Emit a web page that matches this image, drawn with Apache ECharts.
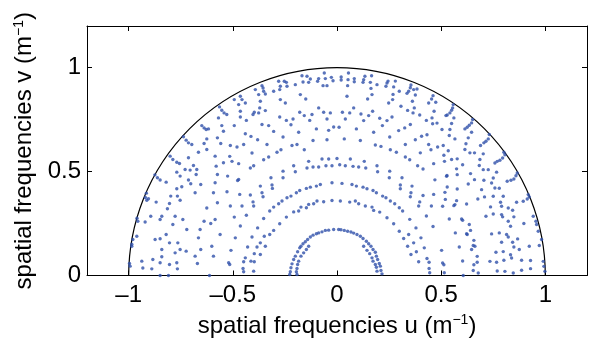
<!DOCTYPE html>
<html><head><meta charset="utf-8">
<script src="https://cdn.jsdelivr.net/npm/echarts@6/dist/echarts.min.js"></script>
<style>html,body{margin:0;padding:0;background:#fff}#c{width:592px;height:343px}</style>
</head><body><div id="c"></div>
<script>
// ---- tick values ----
const xTicks = [-1, -0.5, 0, 0.5, 1];
const yTicks = [0, 0.5, 1];

// ---- sample points (u, v) ----
const ringInner = [[0.008,0.221],[0.019,0.22],[0.035,0.217],[0.051,0.213],[0.067,0.209],[0.08,0.204],[0.096,0.197],[0.112,0.189],[0.125,0.178],[0.141,0.165],[0.152,0.153],[0.163,0.141],[0.173,0.125],[0.184,0.112],[0.189,0.093],[0.195,0.077],[0.203,0.058],[0.208,0.045],[0.211,0.024],[0.216,0.008],
[-0.016,0.221],[-0.04,0.218],[-0.056,0.217],[-0.072,0.21],[-0.088,0.205],[-0.099,0.201],[-0.115,0.194],[-0.128,0.185],[-0.141,0.173],[-0.152,0.162],[-0.163,0.153],[-0.173,0.141],[-0.179,0.133],[-0.189,0.114],[-0.2,0.093],[-0.208,0.077],[-0.216,0.056],[-0.221,0.037],[-0.224,0.018],[-0.227,0.005]];
const ringInnerLow = [[0.128,0.141],[0.144,0.121],[0.157,0.105],[0.168,0.085],[0.173,0.069],[0.184,0.053],[0.189,0.04],[0.192,0.021],
[-0.136,0.141],[-0.147,0.125],[-0.16,0.109],[-0.173,0.093],[-0.184,0.069],[-0.189,0.053],[-0.192,0.034],[-0.195,0.018],[-0.192,0.005]];
const ring044 = [[0.024,0.443],[0.072,0.438],[0.093,0.43],[0.125,0.425],[0.144,0.417],[0.173,0.409],[0.189,0.398],[0.219,0.382],[0.235,0.374],[0.256,0.358],[0.277,0.345],[0.299,0.326],[0.315,0.31],[0.349,0.27],[0.379,0.229],[0.403,0.181],[0.419,0.133],[0.432,0.082],[0.442,0.034],[0.445,0.013],
[-0.024,0.446],[-0.08,0.438],[-0.099,0.43],[-0.128,0.425],[-0.147,0.419],[-0.179,0.409],[-0.195,0.398],[-0.221,0.382],[-0.24,0.374],[-0.264,0.358],[-0.28,0.345],[-0.304,0.329],[-0.323,0.31],[-0.352,0.274],[-0.381,0.229],[-0.408,0.185],[-0.429,0.137],[-0.44,0.085],[-0.448,0.066],[-0.451,0.034],[-0.448,0.018]];
const ring036 = [[0.016,0.358],[0.061,0.353],[0.088,0.358],[0.104,0.345],[0.136,0.334],[0.168,0.329],[0.176,0.313],[0.205,0.305],[0.24,0.278],[0.272,0.249],[0.299,0.213],[0.32,0.178],[0.339,0.141],[0.355,0.101],
[-0.024,0.361],[-0.064,0.355],[-0.096,0.358],[-0.112,0.345],[-0.136,0.342],[-0.147,0.326],[-0.173,0.329],[-0.184,0.31],[-0.208,0.306],[-0.243,0.281],[-0.275,0.249],[-0.304,0.217],[-0.323,0.197],[-0.349,0.189],[-0.368,0.157],[-0.384,0.137],[-0.397,0.105],[-0.413,0.069]];
const dotsTopRight = [[0.02,0.955],[0.02,0.94],[0.055,0.974],[0.053,0.942],[0.083,0.947],[0.083,0.932],[0.128,0.942],[0.125,0.929],[0.134,0.958],[0.166,0.961],[0.16,0.929],[0.163,0.9],[0.051,0.913],[0.192,0.918],[0.235,0.91],[0.24,0.926],[0.245,0.935],[0.272,0.907],[0.269,0.871],[0.28,0.935],[0.299,0.886],[0.355,0.916],[0.352,0.903],[0.344,0.886],[0.336,0.876],[0.368,0.894],[0.384,0.897],[0.376,0.868],[0.362,0.838],[0.371,0.806],[0.365,0.782],[0.339,0.794],[0.307,0.814],[0.248,0.83],[0.267,0.846],[0.461,0.865],[0.454,0.849],[0.44,0.83],[0.474,0.833],[0.466,0.79],[0.456,0.758],[0.429,0.746],[0.459,0.73],[0.48,0.733],[0.504,0.702],[0.048,0.862],[0.147,0.849],[0.168,0.87],[0.08,0.806],[0.026,0.785],[0.061,0.782],[0.115,0.777],[0.171,0.79],[0.04,0.753],[0.128,0.745],[0.152,0.769],[0.205,0.756],[0.24,0.745],[0.264,0.762],[0.218,0.721],[0.176,0.689],[0.093,0.705],[0.01,0.713],[0.035,0.657],[0.112,0.649],[0.253,0.666],[0.296,0.697],[0.325,0.71],[0.352,0.726],[0.397,0.772],[0.376,0.653],[0.406,0.67],[0.432,0.677],[0.44,0.63],[0.451,0.605],[0.483,0.618],[0.328,0.63],[0.256,0.605],[0.285,0.593],[0.211,0.621],[0.184,0.628],[0.328,0.57],[0.349,0.557],[0.4,0.59],[0.387,0.528],[0.413,0.512],[0.064,0.56],[0.131,0.549],[0.0,0.563],[0.013,0.533],[0.04,0.528],[0.077,0.525],[0.104,0.522],[0.138,0.517],[0.192,0.528],[0.464,0.538]];
const dotsRightUpper = [[0.558,0.822],[0.555,0.806],[0.55,0.795],[0.542,0.782],[0.529,0.772],[0.523,0.769],[0.561,0.758],[0.55,0.731],[0.542,0.702],[0.539,0.673],[0.566,0.657],[0.51,0.625],[0.534,0.6],[0.513,0.578],[0.516,0.549],[0.55,0.558],[0.577,0.561],[0.603,0.533],[0.574,0.513],[0.577,0.485],[0.526,0.477],[0.529,0.426],[0.577,0.416],[0.651,0.75],[0.646,0.734],[0.635,0.723],[0.625,0.713],[0.614,0.705],[0.646,0.689],[0.63,0.662],[0.619,0.634],[0.614,0.606],[0.638,0.59],[0.66,0.59],[0.702,0.585],[0.686,0.558],[0.683,0.529],[0.702,0.509],[0.726,0.509],[0.641,0.49],[0.66,0.461],[0.63,0.44],[0.705,0.458],[0.694,0.413],[0.742,0.445],[0.758,0.421],[0.779,0.42],[0.75,0.381],[0.798,0.381],[0.708,0.378],[0.676,0.368],[0.731,0.678],[0.726,0.657],[0.715,0.646],[0.705,0.638],[0.689,0.625],[0.758,0.541],[0.769,0.549],[0.782,0.554],[0.795,0.565],[0.806,0.581],[0.801,0.593],[0.766,0.497],[0.75,0.469],[0.865,0.493],[0.859,0.48],[0.849,0.464],[0.835,0.458],[0.817,0.453],[0.918,0.389],[0.923,0.378],[0.913,0.368]];
const dotsCenterRight = [[0.195,0.499],[0.253,0.502],[0.251,0.47],[0.312,0.47],[0.47,0.46],[0.528,0.481],[0.304,0.435],[0.304,0.417],[0.36,0.43],[0.355,0.398],[0.352,0.379],[0.413,0.385],[0.464,0.39],[0.392,0.334],[0.397,0.354],[0.453,0.334],[0.429,0.286],[0.461,0.236],[0.52,0.366],[0.368,0.157],[0.381,0.114],[0.392,0.066],[0.442,0.064],[0.344,0.197],[0.515,0.013]];
const dotsRightLower = [[0.518,0.4],[0.566,0.341],[0.561,0.336],[0.574,0.36],[0.622,0.344],[0.785,0.352],[0.79,0.333],[0.822,0.325],[0.862,0.352],[0.894,0.357],[0.737,0.33],[0.715,0.285],[0.75,0.296],[0.79,0.293],[0.795,0.282],[0.822,0.261],[0.833,0.237],[0.849,0.282],[0.843,0.314],[0.897,0.25],[0.942,0.285],[0.955,0.261],[0.958,0.245],[0.966,0.213],[0.507,0.333],[0.539,0.272],[0.598,0.272],[0.603,0.266],[0.635,0.245],[0.641,0.217],[0.622,0.201],[0.625,0.197],[0.568,0.205],[0.657,0.169],[0.654,0.144],[0.646,0.125],[0.662,0.141],[0.742,0.2],[0.779,0.205],[0.814,0.197],[0.822,0.185],[0.843,0.16],[0.867,0.176],[0.875,0.125],[0.849,0.137],[0.79,0.16],[0.763,0.112],[0.798,0.115],[0.833,0.1],[0.838,0.084],[0.801,0.073],[0.766,0.064],[0.734,0.068],[0.673,0.092],[0.657,0.052],[0.673,0.064],[0.654,0.024],[0.678,0.012],[0.603,0.07],[0.587,0.137],[0.507,0.06],[0.513,0.052],[0.502,0.121],[0.886,0.073],[0.929,0.072],[0.923,0.141],[0.971,0.144],[0.982,0.173],[0.99,0.068],[0.993,0.044],[0.929,0.033],[0.886,0.025],[0.846,0.012],[0.806,0.02],[0.769,0.022],[0.606,0.0],[0.998,0.02]];
const dotsTopLeft = [[-0.061,0.974],[-0.027,0.953],[-0.019,0.937],[-0.056,0.947],[-0.048,0.913],[-0.067,0.913],[-0.088,0.947],[-0.093,0.934],[-0.128,0.945],[-0.136,0.929],[-0.144,0.958],[-0.168,0.961],[-0.163,0.931],[-0.2,0.918],[-0.24,0.91],[-0.243,0.929],[-0.253,0.934],[-0.272,0.91],[-0.275,0.894],[-0.28,0.934],[-0.304,0.886],[-0.355,0.902],[-0.36,0.913],[-0.352,0.886],[-0.344,0.873],[-0.376,0.87],[-0.392,0.894],[-0.368,0.838],[-0.371,0.806],[-0.397,0.785],[-0.44,0.83],[-0.456,0.846],[-0.464,0.862],[-0.472,0.822],[-0.493,0.846],[-0.464,0.79],[-0.464,0.762],[-0.435,0.746],[-0.493,0.721],[-0.403,0.774],[-0.376,0.782],[-0.344,0.793],[-0.272,0.846],[-0.248,0.83],[-0.275,0.762],[-0.243,0.746],[-0.211,0.753],[-0.179,0.785],[-0.157,0.769],[-0.131,0.746],[-0.12,0.774],[-0.15,0.849],[-0.176,0.87],[-0.088,0.806],[-0.064,0.785],[-0.048,0.753],[-0.032,0.782],[-0.016,0.714],[-0.04,0.698],[-0.099,0.705],[-0.221,0.725],[-0.184,0.689],[-0.259,0.666],[-0.328,0.721],[-0.36,0.726],[-0.304,0.693],[-0.413,0.669],[-0.381,0.653],[-0.44,0.682],[-0.448,0.63],[-0.48,0.618],[-0.512,0.625],[-0.336,0.63],[-0.269,0.605],[-0.288,0.593],[-0.216,0.625],[-0.192,0.63],[-0.408,0.589],[-0.515,0.573],[-0.504,0.549],[-0.352,0.557],[-0.328,0.57],[-0.4,0.528],[-0.416,0.517],[-0.472,0.538],[-0.136,0.549],[-0.072,0.56],[-0.04,0.56],[-0.115,0.522],[-0.144,0.517],[-0.088,0.522],[-0.053,0.528],[-0.024,0.528],[-0.208,0.528],[-0.115,0.649],[-0.157,0.605],[-0.048,0.653]];
const dotsCenterLeft = [[-0.525,0.478],[-0.528,0.403],[-0.472,0.462],[-0.477,0.457],[-0.368,0.43],[-0.36,0.398],[-0.355,0.379],[-0.317,0.47],[-0.312,0.435],[-0.31,0.419],[-0.259,0.502],[-0.259,0.47],[-0.2,0.499],[-0.512,0.334],[-0.467,0.39],[-0.456,0.334],[-0.416,0.387],[-0.403,0.354],[-0.4,0.334],[-0.493,0.281],[-0.435,0.29],[-0.464,0.238],[-0.488,0.181],[-0.509,0.121],[-0.52,0.061],[-0.515,0.053],[-0.4,0.021],[-0.397,0.066],[-0.368,0.101],[-0.344,0.141]];
const dotsLeftUpper = [[-0.564,0.811],[-0.553,0.795],[-0.542,0.782],[-0.529,0.774],[-0.649,0.721],[-0.638,0.71],[-0.628,0.702],[-0.617,0.705],[-0.737,0.667],[-0.724,0.651],[-0.713,0.638],[-0.697,0.63],[-0.569,0.758],[-0.553,0.721],[-0.545,0.694],[-0.574,0.662],[-0.558,0.635],[-0.625,0.657],[-0.638,0.635],[-0.625,0.606],[-0.665,0.593]];
const dotsLeftLower = [[-0.801,0.574],[-0.788,0.558],[-0.769,0.545],[-0.756,0.539],[-0.713,0.566],[-0.689,0.529],[-0.673,0.51],[-0.729,0.51],[-0.705,0.507],[-0.676,0.486],[-0.585,0.574],[-0.58,0.526],[-0.574,0.486],[-0.545,0.542],[-0.874,0.484],[-0.862,0.47],[-0.849,0.459],[-0.82,0.449],[-0.769,0.497],[-0.753,0.478],[-0.713,0.459],[-0.702,0.441],[-0.745,0.427],[-0.769,0.417],[-0.798,0.382],[-0.766,0.382],[-0.753,0.362],[-0.804,0.346],[-0.814,0.321],[-0.777,0.285],[-0.841,0.285],[-0.849,0.269],[-0.894,0.285],[-0.913,0.362],[-0.905,0.369],[-0.92,0.375],[-0.868,0.353],[-0.915,0.396],[-0.96,0.275],[-0.956,0.261],[-0.788,0.245],[-0.74,0.269],[-0.721,0.221],[-0.665,0.181],[-0.657,0.221],[-0.638,0.261],[-0.625,0.325],[-0.593,0.398],[-0.681,0.398],[-0.654,0.438],[-0.585,0.446],[-0.574,0.35],[-0.585,0.269],[-0.606,0.25],[-0.561,0.197],[-0.873,0.173],[-0.849,0.177],[-0.82,0.197],[-0.804,0.157],[-0.764,0.157],[-0.753,0.125],[-0.724,0.117],[-0.777,0.109],[-0.841,0.125],[-0.841,0.09],[-0.849,0.061],[-0.804,0.053],[-0.769,0.061],[-0.766,0.032],[-0.809,0.0],[-0.884,0.077],[-0.937,0.069],[-0.932,0.036],[-0.889,0.032],[-0.849,0.0],[-0.993,0.045],[-0.996,0.058],[-0.985,0.141],[-0.98,0.173],[-0.985,0.15],[-0.961,0.189],[-0.921,0.257],[-0.681,0.093],[-0.67,0.058],[-0.654,0.125],[-0.601,0.141],[-0.593,0.093],[-0.612,0.0]];

const allDots = [].concat(ringInner, ringInnerLow, ring044, ring036, dotsTopRight, dotsRightUpper,
  dotsCenterRight, dotsRightLower, dotsTopLeft, dotsCenterLeft, dotsLeftUpper, dotsLeftLower);

// ---- chart ----
const FONT = '"Liberation Sans", Arial, Helvetica, sans-serif';
const fmt = v => (v < 0 ? '\u2013' + String(-v) : String(v));
const GRID = { left: 87, right: 5, top: 26, bottom: 67 };
const chartW = 592, chartH = 343;
const plotW = chartW - GRID.left - GRID.right;
const plotH = chartH - GRID.top - GRID.bottom;
const X_MIN = -1.2, X_MAX = 1.2, Y_MIN = 0, Y_MAX = 1.2;
const originX = GRID.left + plotW * (0 - X_MIN) / (X_MAX - X_MIN);
const originY = GRID.top + plotH * (Y_MAX - 0) / (Y_MAX - Y_MIN);
const unitR = plotW / (X_MAX - X_MIN);

const axisLineStyle = { show: true, onZero: false, lineStyle: { color: '#000', width: 1 } };
const tickStyle = { show: true, inside: true, length: 5, lineStyle: { color: '#000', width: 1 } };
const supRich = { sup: { fontSize: 14, fontFamily: FONT, color: '#000', padding: [0, 0, 11, 0] } };

const chart = echarts.init(document.getElementById('c'), null, { renderer: 'canvas' });
chart.setOption({
  animation: false,
  backgroundColor: '#fff',
  grid: GRID,
  xAxis: [{
    type: 'value', min: X_MIN, max: X_MAX, position: 'bottom',
    axisLine: axisLineStyle,
    axisTick: Object.assign({ customValues: xTicks }, tickStyle),
    axisLabel: { customValues: xTicks, formatter: fmt, fontSize: 24, fontFamily: FONT, color: '#000', margin: 8 },
    splitLine: { show: false },
    name: 'spatial frequencies u (m{sup|\u22121})', nameLocation: 'middle', nameGap: 38,
    nameTextStyle: { fontSize: 24, fontFamily: FONT, color: '#000', rich: supRich }
  }, {
    type: 'value', min: X_MIN, max: X_MAX, position: 'top',
    axisLine: axisLineStyle,
    axisTick: Object.assign({ customValues: xTicks }, tickStyle),
    axisLabel: { show: false }, splitLine: { show: false }
  }],
  yAxis: [{
    type: 'value', min: Y_MIN, max: Y_MAX, position: 'left',
    axisLine: axisLineStyle,
    axisTick: Object.assign({ customValues: yTicks }, tickStyle),
    axisLabel: { customValues: yTicks, formatter: fmt, fontSize: 24, fontFamily: FONT, color: '#000', margin: 6 },
    splitLine: { show: false },
    name: 'spatial frequencies v (m{sup|\u22121})', nameLocation: 'middle', nameGap: 45, nameRotate: 90,
    nameTextStyle: { fontSize: 24, fontFamily: FONT, color: '#000', rich: supRich }
  }, {
    type: 'value', min: Y_MIN, max: Y_MAX, position: 'right',
    axisLine: axisLineStyle,
    axisTick: Object.assign({ customValues: yTicks }, tickStyle),
    axisLabel: { show: false }, splitLine: { show: false }
  }],
  polar: { center: [originX, originY], radius: unitR },
  angleAxis: {
    type: 'value', min: 0, max: 180, startAngle: 0, endAngle: 180, clockwise: false,
    axisLine: { show: true, lineStyle: { color: '#000', width: 1.2 } },
    axisTick: { show: false }, axisLabel: { show: false }, splitLine: { show: false }
  },
  radiusAxis: {
    type: 'value', min: 0, max: 1,
    axisLine: { show: false }, axisTick: { show: false }, axisLabel: { show: false }, splitLine: { show: false }
  },
  series: [{
    type: 'scatter', xAxisIndex: 0, yAxisIndex: 0,
    data: allDots, symbol: 'circle', symbolSize: 3.4,
    itemStyle: { color: '#2f50aa' }, silent: true
  }]
});
</script>
</body></html>
